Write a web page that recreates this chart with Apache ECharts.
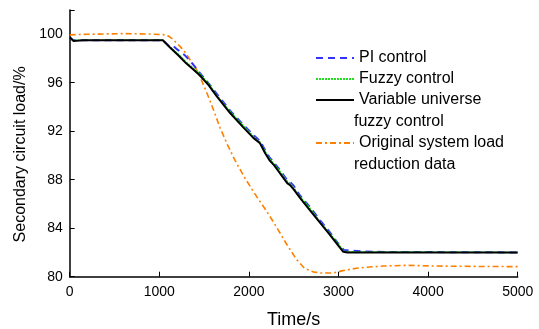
<!DOCTYPE html>
<html>
<head>
<meta charset="utf-8">
<script src="https://cdn.jsdelivr.net/npm/echarts@6/dist/echarts.min.js"></script>
<style>html,body{margin:0;padding:0;background:#fff;}#c{width:539px;height:329px;}</style>
</head>
<body>
<div id="c"></div>
<script>
const seriesNames = ['PI control', 'Fuzzy control', 'Variable universe fuzzy control', 'Original system load reduction data'];
const xTicks = [0, 1000, 2000, 3000, 4000, 5000];
const yTicks = [80, 84, 88, 92, 96, 100];

const piTime = [0, 40, 150, 1040, 1120, 1160, 1200, 1280, 1343, 1400, 1454, 1550, 1640, 1790, 1940, 2050, 2124, 2180, 2230, 2280, 2330, 2380, 2430, 2460, 2500, 2570, 2680, 2800, 2900, 3000, 3060, 3120, 3400, 5000];
const piLoad = [99.75, 99.5, 99.5, 99.5, 98.95, 99.0, 98.75, 98.3, 97.8, 97.3, 96.8, 95.95, 95.1, 93.7, 92.5, 91.7, 91.2, 90.45, 89.85, 89.4, 88.95, 88.45, 87.95, 87.8, 87.5, 86.7, 85.75, 84.6, 83.7, 82.7, 82.2, 82.15, 82.05, 82.0];

const fuzzyTime = [0, 40, 150, 1040, 1120, 1220, 1300, 1380, 1454, 1550, 1640, 1790, 1940, 2050, 2124, 2180, 2230, 2280, 2330, 2380, 2430, 2460, 2500, 2570, 2680, 2800, 2900, 3000, 3060, 3120, 5000];
const fuzzyLoad = [99.75, 99.5, 99.5, 99.5, 98.95, 98.3, 97.7, 97.2, 96.7, 95.9, 95.0, 93.6, 92.45, 91.6, 91.1, 90.35, 89.75, 89.3, 88.85, 88.35, 87.85, 87.7, 87.35, 86.6, 85.65, 84.5, 83.6, 82.65, 82.1, 82.05, 82.0];

const varTime = [0, 40, 150, 1040, 1120, 1220, 1300, 1380, 1454, 1550, 1640, 1790, 1940, 2050, 2124, 2180, 2230, 2280, 2330, 2380, 2430, 2460, 2500, 2570, 2680, 2800, 2900, 3000, 3054, 3100, 5000];
const varLoad = [99.75, 99.45, 99.5, 99.5, 98.9, 98.2, 97.6, 97.1, 96.6, 95.8, 94.9, 93.5, 92.3, 91.45, 91.0, 90.2, 89.6, 89.2, 88.7, 88.2, 87.7, 87.55, 87.2, 86.5, 85.5, 84.4, 83.5, 82.55, 82.05, 82.0, 82.0];

const origTime = [0, 200, 600, 900, 1080, 1150, 1231, 1290, 1343, 1400, 1454, 1529, 1603, 1677, 1760, 1845, 1950, 2087, 2198, 2300, 2420, 2533, 2620, 2717, 2800, 2940, 3050, 3200, 3315, 3500, 3761, 4057, 4500, 5000];
const origLoad = [99.95, 100.0, 100.05, 100.02, 99.95, 99.6, 99.0, 98.5, 97.9, 97.3, 96.5, 95.2, 93.8, 92.3, 90.9, 89.6, 88.2, 86.6, 85.4, 84.2, 82.7, 81.4, 80.7, 80.4, 80.3, 80.3, 80.5, 80.7, 80.78, 80.88, 80.94, 80.88, 80.85, 80.83];

function pairs(t, v) { return t.map((x, i) => [x, v[i]]); }

const chart = echarts.init(document.getElementById('c'), null, {renderer: 'canvas'});
const font = 'Liberation Sans, Arial, sans-serif';
const legendCommon = {
  orient: 'vertical', left: 310, itemWidth: 38, itemHeight: 14, itemGap: 5,
  textStyle: {fontFamily: font, fontSize: 16, color: '#000'},
  itemStyle: {opacity: 0}
};
chart.setOption({
  animation: false,
  backgroundColor: '#fff',
  grid: {left: 69.7, right: 21.3, top: 10, bottom: 52.3, containLabel: false, outerBoundsMode: 'none'},
  xAxis: {
    type: 'value', min: 0, max: 5000, interval: 1000,
    name: 'Time/s', nameLocation: 'middle', nameGap: 34,
    nameTextStyle: {fontFamily: font, fontSize: 18, color: '#000'},
    axisLine: {show: true, lineStyle: {color: '#000', width: 1.5}},
    axisTick: {show: true, inside: true, length: 5, lineStyle: {color: '#000', width: 1}},
    axisLabel: {fontFamily: font, fontSize: 14, color: '#000', margin: 8,
      formatter: v => xTicks.includes(v) ? String(v) : ''},
    splitLine: {show: false}
  },
  yAxis: {
    type: 'value', min: 80, max: 102, interval: 4,
    name: 'Secondary circuit load/%', nameLocation: 'middle', nameGap: 39,
    nameTextStyle: {fontFamily: font, fontSize: 16, color: '#000', padding: [0, 22, 0, 0]},
    axisLine: {show: true, lineStyle: {color: '#000', width: 1.5}},
    axisTick: {show: true, inside: true, length: 5, lineStyle: {color: '#000', width: 1}},
    axisLabel: {fontFamily: font, fontSize: 14, color: '#000', margin: 7,
      formatter: v => yTicks.includes(v) ? String(v) : ''},
    splitLine: {show: false}
  },
  legend: [
    Object.assign({}, legendCommon, {
      data: seriesNames.slice(0, 3), top: 45,
      formatter: n => n === seriesNames[2] ? 'Variable universe' : n
    }),
    Object.assign({}, legendCommon, {
      data: [seriesNames[3]], top: 130,
      formatter: () => 'Original system load'
    })
  ],
  graphic: [
    {type: 'text', left: 354, top: 114, style: {text: 'fuzzy control', font: '16px ' + font, fill: '#000'}},
    {type: 'text', left: 354, top: 157, style: {text: 'reduction data', font: '16px ' + font, fill: '#000'}}
  ],
  series: [
    {name: seriesNames[3], type: 'line', symbol: 'none', z: 1,
      data: pairs(origTime, origLoad),
      lineStyle: {color: '#ff8000', width: 1.6, type: [6, 3, 2, 3]}, itemStyle: {color: '#ff8000'}},
    {name: seriesNames[0], type: 'line', symbol: 'none', z: 2,
      data: pairs(piTime, piLoad),
      lineStyle: {color: '#3333ff', width: 2, type: [7, 5]}, itemStyle: {color: '#3333ff'}},
    {name: seriesNames[1], type: 'line', symbol: 'none', z: 3,
      data: pairs(fuzzyTime, fuzzyLoad),
      lineStyle: {color: '#22dd22', width: 1.5, type: [2, 1]}, itemStyle: {color: '#22dd22'}},
    {name: seriesNames[2], type: 'line', symbol: 'none', z: 4,
      data: pairs(varTime, varLoad),
      lineStyle: {color: '#000', width: 2}, itemStyle: {color: '#000'}}
  ]
});
</script>
</body>
</html>
